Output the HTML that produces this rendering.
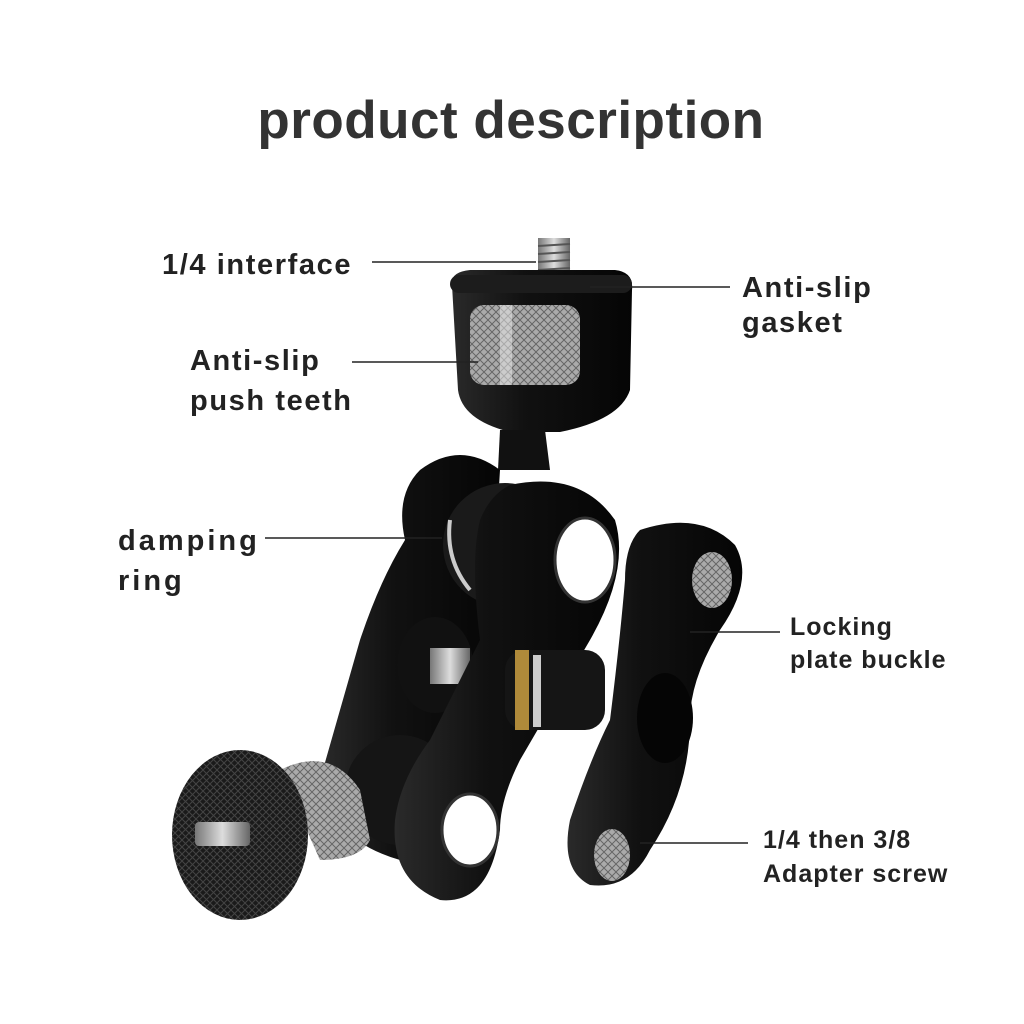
<!DOCTYPE html>
<html><head><meta charset="utf-8"><style>
html,body{margin:0;padding:0;background:#fff;}
body{width:1024px;height:1024px;overflow:hidden;}
svg{display:block;}
text{font-family:"Liberation Sans","DejaVu Sans",sans-serif;font-weight:bold;fill:#222;}
</style></head><body>
<svg width="1024" height="1024" viewBox="0 0 1024 1024" xmlns="http://www.w3.org/2000/svg">
<defs>
<linearGradient id="metal" x1="0" x2="1">
<stop offset="0" stop-color="#2a2a2a"/><stop offset="0.4" stop-color="#111"/><stop offset="1" stop-color="#050505"/>
</linearGradient>
<linearGradient id="silver" x1="0" x2="1">
<stop offset="0" stop-color="#777"/><stop offset="0.5" stop-color="#ddd"/><stop offset="1" stop-color="#666"/>
</linearGradient>
<pattern id="knurl" width="8" height="8" patternUnits="userSpaceOnUse">
<rect width="8" height="8" fill="#aaa"/><path d="M0 0L8 8M8 0L0 8" stroke="#666" stroke-width="1"/>
</pattern>
<pattern id="knurl2" width="7" height="7" patternUnits="userSpaceOnUse">
<rect width="7" height="7" fill="#1a1a1a"/><path d="M0 0L7 7M7 0L0 7" stroke="#444" stroke-width="1"/>
</pattern>
</defs>
<text x="511" y="138" text-anchor="middle" font-size="53" letter-spacing="0.5" style="fill:#333">product description</text>

<rect x="538" y="238" width="32" height="40" fill="url(#silver)"/>
<g stroke="#555" stroke-width="2"><line x1="538" y1="246" x2="570" y2="244"/><line x1="538" y1="254" x2="570" y2="252"/><line x1="538" y1="262" x2="570" y2="260"/><line x1="538" y1="270" x2="570" y2="268"/></g>
<path d="M452 285 Q450 272 470 270 L615 270 Q634 272 632 290 L630 390 Q620 420 560 432 L510 432 Q462 420 458 390 Z" fill="url(#metal)"/>
<rect x="450" y="275" width="182" height="18" rx="9" fill="#1c1c1c"/>
<rect x="470" y="305" width="110" height="80" rx="14" fill="url(#knurl)"/>
<rect x="500" y="305" width="12" height="80" fill="#eee" opacity="0.5"/>
<path d="M500 430 L545 430 L550 470 L498 470 Z" fill="#111"/>
<path d="M420 470 Q460 440 500 470 L480 800 Q460 870 400 860 Q330 840 320 780 L360 640 Q380 580 405 540 Q395 495 420 470 Z" fill="url(#metal)"/>
<circle cx="505" cy="545" r="62" fill="#1a1a1a"/>
<path d="M450 520 Q445 560 470 590" stroke="#ccc" stroke-width="4" fill="none"/>
<ellipse cx="435" cy="665" rx="38" ry="48" fill="#111"/>
<rect x="430" y="648" width="40" height="36" fill="url(#silver)"/>
<circle cx="400" cy="790" r="55" fill="#151515"/>
<path d="M510 485 Q580 470 615 520 Q630 570 590 640 L520 760 Q500 800 500 830 Q490 905 440 900 Q390 880 395 820 Q400 780 430 740 L480 640 Q470 560 480 520 Q490 495 510 485 Z" fill="url(#metal)"/>
<ellipse cx="585" cy="560" rx="30" ry="42" fill="#fff"/>
<ellipse cx="585" cy="560" rx="30" ry="42" fill="none" stroke="#333" stroke-width="3"/>
<ellipse cx="470" cy="830" rx="28" ry="36" fill="#fff"/>
<ellipse cx="470" cy="830" rx="28" ry="36" fill="none" stroke="#333" stroke-width="3"/>
<rect x="505" y="650" width="100" height="80" rx="20" fill="#151515"/>
<rect x="515" y="650" width="14" height="80" fill="#b08a3a"/>
<rect x="533" y="655" width="8" height="72" fill="#ccc"/>
<path d="M640 530 Q700 510 735 545 Q755 580 720 630 Q690 680 690 720 Q690 790 650 850 Q630 890 590 885 Q560 870 570 820 Q590 760 610 720 Q620 640 625 580 Q625 545 640 530 Z" fill="url(#metal)"/>
<ellipse cx="712" cy="580" rx="20" ry="28" fill="url(#knurl)"/>
<ellipse cx="665" cy="718" rx="28" ry="45" fill="#050505"/>
<ellipse cx="612" cy="855" rx="18" ry="26" fill="url(#knurl)"/>
<path d="M280 770 Q330 745 360 790 L370 840 Q360 860 320 860 Z" fill="url(#knurl)"/>
<ellipse cx="240" cy="835" rx="68" ry="85" fill="url(#knurl2)"/>
<rect x="195" y="822" width="55" height="24" rx="4" fill="url(#silver)"/>

<g stroke="#222" stroke-width="1.5">
<line x1="372" y1="262" x2="536" y2="262"/>
<line x1="590" y1="287" x2="730" y2="287"/>
<line x1="352" y1="362" x2="478" y2="362"/>
<line x1="265" y1="538" x2="442" y2="538"/>
<line x1="690" y1="632" x2="780" y2="632"/>
<line x1="640" y1="843" x2="748" y2="843"/>
</g>

<g font-size="29" letter-spacing="1.6">
<text x="162" y="274">1/4 interface</text>
<text x="742" y="297">Anti-slip</text>
<text x="742" y="332">gasket</text>
<text x="190" y="370">Anti-slip</text>
<text x="190" y="410">push teeth</text>
<text x="118" y="550" letter-spacing="3">damping</text>
<text x="118" y="590" letter-spacing="3">ring</text>
</g>
<g font-size="25" letter-spacing="1">
<text x="790" y="635">Locking</text>
<text x="790" y="668">plate buckle</text>
<text x="763" y="848">1/4 then 3/8</text>
<text x="763" y="882">Adapter screw</text>
</g>
</svg>
</body></html>
